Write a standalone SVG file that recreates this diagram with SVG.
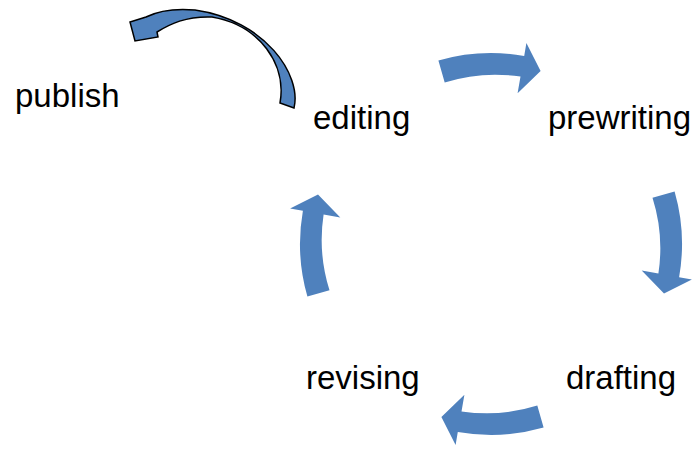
<svg xmlns="http://www.w3.org/2000/svg" width="694" height="449" viewBox="0 0 694 449">
<style>
.lbl{font-family:"Liberation Sans",Arial,sans-serif;font-size:33px;fill:#000}
.blk{fill:#4F81BD}
.pub{fill:#4F81BD;stroke:#000;stroke-width:1.5;stroke-linejoin:miter}
</style>
<defs>
<path id="cyc" class="blk" d="M -52.6,-183.6 A 191 191 0 0 1 33.2,-188.1 L 35.4,-200.9 L 49.6,-173.0 L 26.6,-150.7 L 29.5,-167.4 A 168 168 0 0 0 -46.3,-161.5 Z"/>
</defs>
<g id="connectors">
<use href="#cyc" transform="translate(491,244)"/>
<use href="#cyc" transform="translate(491,244) rotate(90)"/>
<use href="#cyc" transform="translate(491,244) rotate(180)"/>
<use href="#cyc" transform="translate(491,244) rotate(270)"/>
<path class="pub" d="M 294,108 C 302,75 265,20 195,10 C 172,8 156,12 146,17 L 130,22 L 135,41 L 158,37 L 157,32 C 170,24 186,16 212,17 C 260,25 287,65 280,103 Z"/>
</g>
<g id="editing"><text class="lbl" x="313" y="129">editing</text></g>
<g id="prewriting"><text class="lbl" x="548" y="129">prewriting</text></g>
<g id="drafting"><text class="lbl" x="566" y="389">drafting</text></g>
<g id="revising"><text class="lbl" x="306" y="389">revising</text></g>
<g id="publish"><text class="lbl" x="15" y="107">publish</text></g>
</svg>
